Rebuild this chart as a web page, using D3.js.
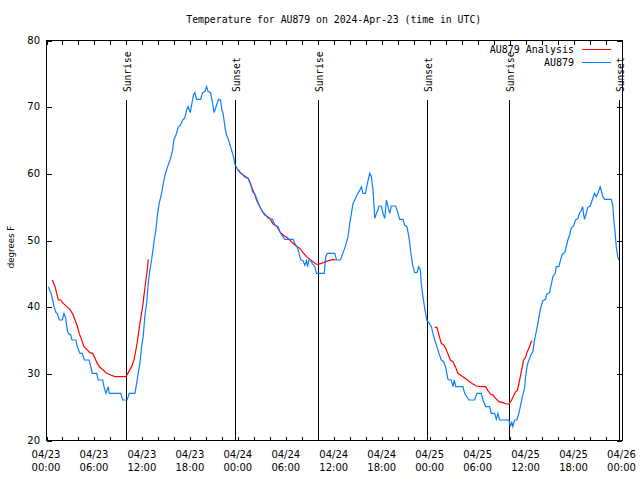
<!DOCTYPE html>
<html><head><meta charset="utf-8">
<script src="https://cdn.jsdelivr.net/npm/d3@7"></script>
<style>body{margin:0;background:#fff}svg{display:block}</style>
</head><body>
<script>
// ---------- data ----------
const chartTitle = "Temperature for AU879 on 2024-Apr-23 (time in UTC)";
const yAxisLabel = "degrees F";
const seriesNames = ["AU879 Analysis", "AU879"];
const seriesColors = ["#ff0000", "#0a80ff"];
const startTime = "2024-04-23T00:00:00Z";
const endTime = "2024-04-26T00:00:00Z";
const yTickValues = [20, 30, 40, 50, 60, 70, 80];

// hours after 04/23 00:00 UTC
const blueHours = [0.29,0.63,0.84,1.0,1.25,1.41,1.66,2.04,2.25,2.46,2.66,2.79,3.09,3.25,3.75,3.91,4.25,4.54,4.79,5.38,5.59,5.79,6.34,6.54,7.09,7.25,7.5,7.79,7.91,9.34,9.59,10.16,10.41,11.13,11.34,11.54,11.75,11.96,12.16,12.38,12.59,12.79,13.0,13.21,13.41,13.54,13.75,13.91,14.16,14.46,14.75,15.0,15.29,15.59,15.84,16.0,16.25,16.54,16.84,17.09,17.34,17.59,17.79,18.04,18.25,18.46,18.63,18.84,19.34,19.59,19.88,20.09,20.29,20.59,20.84,21.04,21.34,21.59,21.84,22.0,22.16,22.41,22.59,22.84,23.09,23.34,23.5,23.66,23.91,24.16,24.34,24.66,24.88,25.29,25.59,25.84,26.13,26.34,26.66,26.96,27.16,27.38,27.79,28.34,28.63,29.04,29.34,29.88,30.91,31.13,31.41,31.63,31.88,32.16,32.38,32.59,32.72,32.88,33.09,33.34,33.63,33.84,34.81,35.0,35.19,36.13,36.34,36.84,37.13,37.44,37.79,38.0,38.21,38.41,38.63,38.91,39.16,39.46,39.66,39.96,40.21,40.5,40.71,40.91,41.13,41.34,41.54,41.66,41.96,42.16,42.38,42.59,42.79,43.0,43.21,43.75,44.04,44.25,44.66,44.88,45.16,45.41,45.71,45.91,46.13,46.41,46.63,46.84,46.96,47.16,47.31,47.41,47.66,47.91,48.21,48.41,48.63,48.91,49.16,49.46,49.75,50.0,50.29,50.5,50.71,50.91,51.09,51.25,52.16,52.38,52.91,53.63,53.91,54.46,54.66,55.0,55.5,55.71,56.13,56.34,56.54,56.75,57.91,58.09,58.25,58.41,58.63,58.91,59.16,59.34,59.59,59.88,60.0,60.21,60.5,60.71,60.91,61.13,61.34,61.54,61.75,61.96,62.16,62.5,62.66,63.0,63.21,63.41,63.71,63.84,64.16,64.38,64.59,64.91,65.09,65.29,65.5,65.71,66.0,66.25,66.54,66.75,67.0,67.13,67.25,67.38,67.59,67.79,68.09,68.34,68.63,68.84,69.04,69.34,69.46,69.66,69.88,70.71,70.91,71.04,71.21,71.34,71.54,71.66];
const blueTemps = [43,42,41,40,39.1,39,38,38,39,38.3,36.5,36,35.8,35,35,34,33,33,32,32,31.1,30,30,29,29,28,27,28,27,27,26,26,27,27,28.5,30,31.5,34,35.5,38.75,40.5,43.5,45.5,47,48.75,50,51.5,53.5,55.5,57,59,60.25,61.25,62.25,63.5,65,65.75,66.9,67.25,68,68.25,69.5,70,69.1,70.5,71.75,72.1,71.1,71.1,72.1,72.25,73,72.25,72.1,70.5,69.1,70.25,71.1,71,69.5,69,66.75,65.75,65,64,63,62.25,61.25,60.75,60.25,60,59.75,59.4,59.25,58.5,57.25,56.9,56.25,55.2,54.5,54.1,53.9,53.25,53.1,52.25,52,51,50.1,50.1,49.5,49,48.1,47,46.9,46.2,46.9,46,47,47,46.4,46,45,45,47.5,48,48,47,47,48,49,50.5,52.5,54,55.5,56,56.75,57.25,58,57,57,58.5,60,59.5,57.5,53.25,54,54.5,55.1,55.1,54,53.25,56,55,54,55.1,55.1,54,53.1,53.1,52.2,52,50.4,47.5,46,45.1,45.1,46,45.5,43.25,41.5,40.3,39.5,37.9,37.6,37,36,35,34,33,32,31.75,30.9,29.1,29,29,28,29,28,28,27,26,26,27,27,26,25,25,24,24,23.1,24,23,23,22,22.75,22,23,23,24,25,26.5,27.75,29.5,31.25,32.25,32.9,33.25,35.1,36.25,37.5,39,40.1,40.9,41.1,41.9,42.1,43.3,44.5,45,46,46,47,47.9,48.1,49,50,50.75,51.75,52.1,53,53.2,54,54.5,55,54,53.1,54,54.9,55.1,56,57,56.5,57,58,57.5,56.5,56.1,56.1,55.25,53,51,49,47.5,47];

// analysis: null marks a gap in the record
const redHours = [0.79,1.13,1.34,1.54,1.84,2.16,2.59,3.0,3.34,3.63,3.91,4.16,4.46,4.75,5.09,5.5,5.84,6.13,6.41,6.75,7.16,7.59,8.09,8.63,10.0,10.29,10.71,11.0,11.25,11.46,11.66,11.88,12.09,12.29,12.5,12.66,12.79,12.91,
  13.5,
  24.0,24.34,24.66,25.29,25.71,26.13,26.34,26.54,26.96,27.38,28.0,28.41,28.84,29.25,29.66,30.09,30.5,30.91,31.41,31.75,32.16,32.59,33.0,33.41,33.75,34.03,34.46,35.0,35.41,35.91,36.25,
  40.0,
  48.63,48.91,49.16,49.46,49.75,50.0,50.29,50.59,50.91,51.25,51.54,51.84,52.25,52.59,53.0,53.41,53.84,54.46,55.0,55.29,55.59,55.91,56.25,56.66,57.16,57.59,57.91,58.21,58.41,58.75,58.96,59.16,59.34,59.59,59.75,60.0,60.21,60.5,60.71,60.84];
const redTemps = [44,43,42,41,41,40.5,40,39.6,38.9,38,37.1,36,35,34,33.6,33.1,33,32.25,31.5,30.9,30.5,30,29.75,29.5,29.5,30.1,31,32,33.5,35,36.75,38.5,40,42,44,45.5,47,47,
  null,
  60.6,60.1,59.75,59.25,58,56.75,56,55.5,54.5,53.75,53.25,52.4,52.1,51.25,50.75,50.4,50,49.5,49,48.75,48.1,47.5,47.1,46.75,46.4,46.35,46.5,46.75,46.9,47.1,47,
  null,
  36.9,36.9,35.75,34.5,34.25,33.75,32.9,32,31.75,30.9,30,29.75,29.4,29.1,28.75,28.4,28.1,28,28,27.4,26.9,26.75,26.25,25.75,25.6,25.4,25.4,25.9,26.4,27.25,27.4,28.4,29.5,31,32,32.4,33.25,34,34.75,34.9];

const sunTimes = ["2024-04-23T10:00:00Z","2024-04-23T23:40:00Z","2024-04-24T10:02:00Z","2024-04-24T23:40:00Z","2024-04-25T09:55:00Z","2024-04-25T23:41:00Z"];
const sunLabels = ["Sunrise","Sunset","Sunrise","Sunset","Sunrise","Sunset"];

// ---------- drawing ----------
(function () {
const W = 640, H = 480;
const pLeft = 46, pRight = 621.5, pTop = 40, pBottom = 440;
const t0 = new Date(startTime), t1 = new Date(endTime);
const toDate = h => new Date(t0.getTime() + h * 3600e3);

const x = d3.scaleUtc().domain([t0, t1]).range([pLeft, pRight]);
const y = d3.scaleLinear().domain([20, 80]).range([pBottom, pTop]);

const svg = d3.select("body").append("svg").attr("width", W).attr("height", H)
  .style("background", "#fff");
const g = svg.append("g").attr("transform", "translate(0.5,0.5)");

const mono = "'DejaVu Sans Mono', monospace";
const sans = "'DejaVu Sans', sans-serif";

// title
svg.append("text").attr("x", (pLeft + pRight) / 2).attr("y", 23)
  .attr("text-anchor", "middle").attr("font-family", mono).attr("font-size", 9.8)
  .attr("fill", "#000").text(chartTitle);

// y label
svg.append("text").attr("transform", `translate(14,247) rotate(-90)`)
  .attr("text-anchor", "middle").attr("font-family", sans).attr("font-size", 8.6)
  .attr("fill", "#000").text(yAxisLabel);

// axes
const xTicksMinor = d3.utcHour.every(2).range(t0, new Date(t1.getTime() + 1));
const xTicksMajor = d3.utcHour.every(6).range(t0, new Date(t1.getTime() + 1));
const fmtDate = d3.utcFormat("%m/%d"), fmtTime = d3.utcFormat("%H:%M");

const xBottom = d3.axisBottom(x).tickValues(xTicksMinor).tickSizeInner(-4).tickSizeOuter(0).tickFormat("");
const xTop = d3.axisTop(x).tickValues(xTicksMinor).tickSizeInner(-4).tickSizeOuter(0).tickFormat("");
const yLeft = d3.axisLeft(y).tickValues(yTickValues).tickSizeInner(-5).tickSizeOuter(0).tickFormat("");
const yRight = d3.axisRight(y).tickValues(yTickValues).tickSizeInner(-5).tickSizeOuter(0).tickFormat("");

function styleAxis(sel) {
  sel.selectAll("path").remove();
  sel.selectAll("line").attr("stroke", "#000").attr("shape-rendering", "crispEdges");
}
g.append("g").attr("transform", `translate(0,${pBottom})`).call(xBottom).call(styleAxis);
g.append("g").attr("transform", `translate(0,${pTop})`).call(xTop).call(styleAxis);
g.append("g").attr("transform", `translate(${pLeft},0)`).call(yLeft).call(styleAxis);
g.append("g").attr("transform", `translate(${pRight},0)`).call(yRight).call(styleAxis);

// x tick labels (two lines)
const xl = svg.append("g").attr("font-family", sans).attr("font-size", 10).attr("fill", "#000");
xTicksMajor.forEach(d => {
  const t = xl.append("text").attr("x", x(d)).attr("text-anchor", "middle");
  t.append("tspan").attr("x", x(d)).attr("y", 458).text(fmtDate(d));
  t.append("tspan").attr("x", x(d)).attr("y", 471).text(fmtTime(d));
});
// y tick labels
const yl = svg.append("g").attr("font-family", sans).attr("font-size", 10).attr("fill", "#000");
yTickValues.forEach(v => {
  yl.append("text").attr("x", 40).attr("y", y(v) + 3.6).attr("text-anchor", "end").text(v);
});

// frame
g.append("rect").attr("x", pLeft).attr("y", pTop).attr("width", pRight - pLeft).attr("height", pBottom - pTop)
  .attr("fill", "none").attr("stroke", "#000").attr("shape-rendering", "crispEdges");

// sun lines
sunTimes.forEach((s, i) => {
  const d = new Date(s), px = Math.round(x(d));
  g.append("line").attr("x1", px).attr("x2", px).attr("y1", 99).attr("y2", pBottom)
    .attr("stroke", "#000").attr("shape-rendering", "crispEdges");
  svg.append("text").attr("transform", `translate(${px + 4.5},92) rotate(-90)`)
    .attr("text-anchor", "start").attr("font-family", mono).attr("font-size", 9.6)
    .attr("fill", "#000").text(sunLabels[i]);
});

// series
const redData = redHours.map((h, i) => ({ t: toDate(h), v: redTemps[i] }));
const blueData = blueHours.map((h, i) => ({ t: toDate(h), v: blueTemps[i] }));
const line = d3.line().defined(d => d.v != null).x(d => x(d.t)).y(d => y(d.v));

svg.append("path").datum(redData).attr("d", line).attr("fill", "none")
  .attr("stroke", seriesColors[0]).attr("stroke-width", 1.2);
svg.append("path").datum(blueData).attr("d", line).attr("fill", "none")
  .attr("stroke", seriesColors[1]).attr("stroke-width", 1.2);

// legend
seriesNames.forEach((n, i) => {
  const ly = 49 + i * 13;
  svg.append("text").attr("x", 574).attr("y", ly + 3.8).attr("text-anchor", "end")
    .attr("font-family", mono).attr("font-size", 10).attr("fill", "#000").text(n);
  g.append("line").attr("x1", 581).attr("x2", 610).attr("y1", ly).attr("y2", ly)
    .attr("stroke", seriesColors[i]).attr("shape-rendering", "crispEdges");
});
})();
</script>
</body></html>
